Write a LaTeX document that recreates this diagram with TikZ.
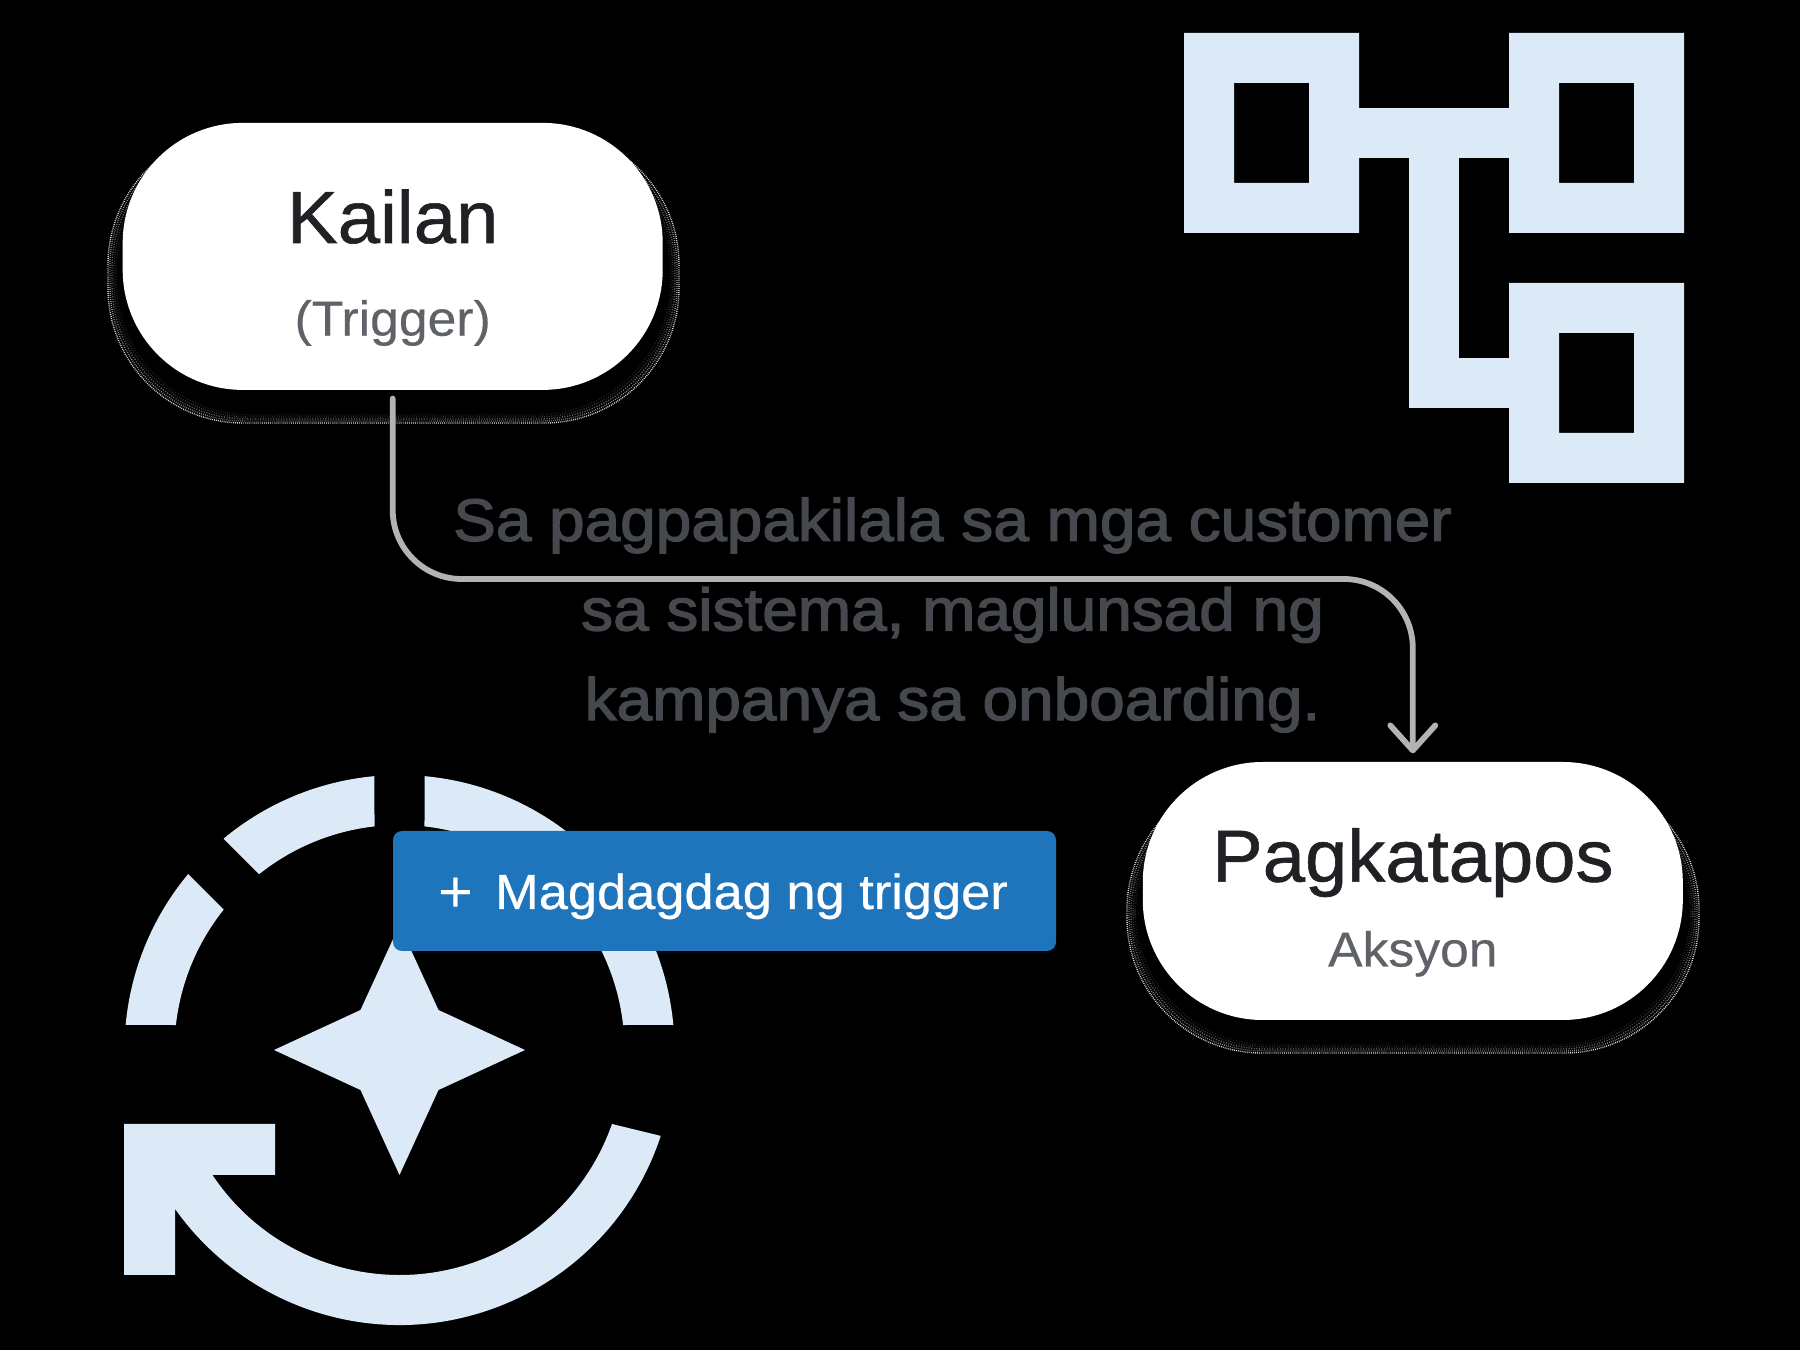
\documentclass[tikz,border=0pt]{standalone}
\usepackage{fontspec}
\setmainfont{Liberation Sans}
\newfontfamily\medfont[FakeBold=2.2, FakeStretch=1.07]{Liberation Sans}
\newfontfamily\titlefont[FakeBold=0.8, FakeStretch=1.03]{Liberation Sans}
\newfontfamily\subfont[FakeBold=0.4, FakeStretch=1.05]{Liberation Sans}
\newfontfamily\btnfont[FakeBold=0.6, FakeStretch=1.065]{Liberation Sans}
\usetikzlibrary{calc,arrows.meta}
\definecolor{iconblue}{HTML}{DCE9F7}
\definecolor{buttonblue}{HTML}{1F75BC}
\definecolor{darktext}{HTML}{202124}
\definecolor{midtext}{HTML}{5F6368}
\definecolor{bodytext}{HTML}{45484C}
\definecolor{flowgray}{HTML}{B3B3B3}
\tikzset{
	iconfill/.style={fill=iconblue},
	pillbox/.style={fill=white, inner sep=0, minimum width=5.4cm, rounded corners=1.2cm},
	titletext/.style={anchor=base, color=darktext, font=\titlefont\fontsize{21}{25}\selectfont},
	subtext/.style={anchor=base, color=midtext, font=\subfont\fontsize{14}{17}\selectfont},
	flowline/.style={line width=0.58mm, color=flowgray, line cap=round, rounded corners=0.69cm},
}
\def\ringpart#1#2#3#4{\fill[iconfill] ($(ringc)+(#1:2.75)$) arc (#1:#2:2.75) -- ($(ringc)+(#3:2.25)$) arc (#3:#4:2.25) -- cycle;}
\def\speckle#1#2#3#4{
	\foreach \d/\g/\u/\v in {0/85/0.25/0.3, 0.02/60/0.2/0.37, 0.04/38/0.31/0.43, 0.06/22/0.23/0.41, 0.08/12/0.29/0.5}
		\draw[line width=0.14mm, color=white!\g!black, dash pattern=on \u pt off \v pt, rounded corners=1.35cm]
			(#1+\d, #2+\d) rectangle (#3-\d, #4-\d);
}

\begin{document}
\begin{tikzpicture}
	\fill[black] (0, 0) rectangle (18, 13.5);
	\useasboundingbox (0, 0) rectangle (18, 13.5);

	% network icon
	\fill[iconfill, even odd rule] (11.84, 13.17) rectangle (13.59, 11.17) (12.34, 12.67) rectangle (13.09, 11.67);
	\fill[iconfill, even odd rule] (15.09, 13.17) rectangle (16.84, 11.17) (15.59, 12.67) rectangle (16.34, 11.67);
	\fill[iconfill, even odd rule] (15.09, 10.67) rectangle (16.84, 8.67) (15.59, 10.17) rectangle (16.34, 9.17);
	\fill[iconfill] (13.59, 12.42) rectangle (15.09, 11.92);
	\fill[iconfill] (14.09, 11.92) rectangle (14.59, 9.42);
	\fill[iconfill] (14.59, 9.92) rectangle (15.09, 9.42);

	% refresh icon
	\coordinate (ringc) at (3.995, 3);
	\ringpart{84.78}{5.22}{6.38}{83.62}
	\ringpart{95.22}{129.78}{128.62}{96.38}
	\ringpart{140.22}{174.78}{173.62}{141.38}
	\fill[iconfill] (1.24, 2.26) -- (2.75, 2.26) -- (2.75, 1.75) -- ($(ringc)+(213.75:2.25)$) arc (213.75:340.8:2.25)
		-- ($(ringc)+(341.8:2.75)$) arc (341.8:215.3:2.75) -- (1.75, 0.75) -- (1.24, 0.75) -- cycle;
	\fill[iconfill] ($(ringc)+(0, 1.25)$) -- ++(0.39, -0.85) -- ++(0.865, -0.4) -- ++(-0.865, -0.4) -- ++(-0.39, -0.85)
		-- ++(-0.39, 0.85) -- ++(-0.865, 0.4) -- ++(0.865, 0.4) -- cycle;

	% soft shadows
	\speckle{1.08}{9.27}{6.79}{12.2}
	\speckle{11.27}{2.97}{16.99}{5.75}

	\node[pillbox, minimum height=2.67cm] (whenbox) at (3.927, 10.936) {};
	\node[pillbox, minimum height=2.58cm] (thenbox) at (14.128, 4.59) {};
	\node[titletext] (whentitle) at (3.927, 11.07) {Kailan};
	\node[subtext] (whensub) at (3.927, 10.143) {(Trigger)};
	\node[titletext] (thentitle) at (14.128, 4.683) {Pagkatapos};
	\node[subtext] (thensub) at (14.128, 3.835) {Aksyon};

	\node[color=bodytext, align=center, font=\medfont\fontsize{17}{25.5}\selectfont] (bodycopy) at (9.525, 7.35)
		{Sa pagpapakilala sa mga customer\\sa sistema, maglunsad ng\\kampanya sa onboarding.};

	\coordinate (turn) at (9, 7.71);
	\draw[flowline, -{Straight Barb[length=2.5mm, width=4.5mm, round]}]
		([yshift=-0.08cm]whenbox.south) |- (turn) -| ([yshift=0.08cm]thenbox.north);

	\node[fill=buttonblue, inner sep=0, minimum width=6.63cm, minimum height=1.2cm, rounded corners=0.09cm] (addbtn) at (7.245, 4.59) {};
	\node[anchor=base, color=white, font=\fontsize{17}{20}\selectfont] (addplus) at (4.56, 4.375) {+};
	\node[anchor=base, color=white, font=\btnfont\fontsize{14}{16}\selectfont] (addlabel) at (7.515, 4.41) {Magdagdag ng trigger};
\end{tikzpicture}
\end{document}
